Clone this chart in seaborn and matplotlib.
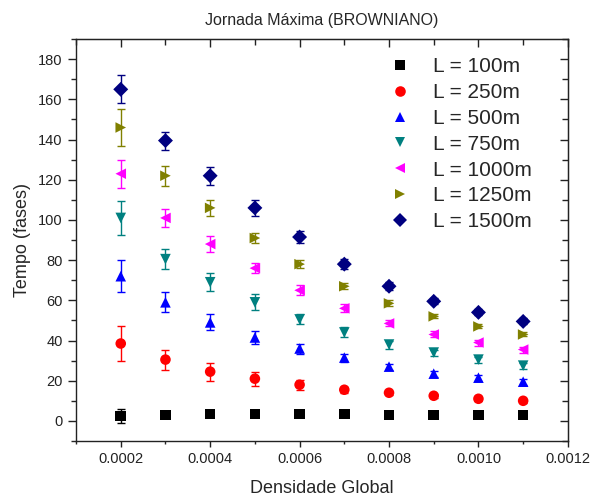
import numpy as np
import pandas as pd
import matplotlib
matplotlib.use("Agg")
import matplotlib.pyplot as plt
from matplotlib.ticker import MultipleLocator, NullFormatter
import seaborn as sns

densidade = [0.0002, 0.0003, 0.0004, 0.0005, 0.0006, 0.0007, 0.0008, 0.0009, 0.0010, 0.0011]
labels = ["L = 100m", "L = 250m", "L = 500m", "L = 750m", "L = 1000m", "L = 1250m", "L = 1500m"]

t_100 = [2.5, 3, 3.5, 3.5, 3.5, 3.5, 3, 3, 3, 3]
e_100 = [3.5, 1.2, 1.2, 1, 1, 1, 1, 1, 1, 1]
t_250 = [38.5, 30.5, 24.5, 21, 18, 15.5, 14, 12.5, 11, 10]
e_250 = [8.5, 5, 4.5, 3.5, 2.5, 1.5, 1, 1, 1, 1]
t_500 = [72, 59, 49, 41.5, 36, 31.5, 27, 23.5, 21.5, 19.5]
e_500 = [8, 5, 4, 3, 2.5, 2, 1.5, 1.5, 1.5, 1.5]
t_750 = [101, 80.5, 69, 59, 50.5, 44, 38, 34, 30.5, 27.5]
e_750 = [8.5, 5, 4.5, 4, 2.5, 2.5, 2, 1.5, 1.5, 1.5]
t_1000 = [123, 101, 88, 76, 65, 56, 48.5, 43, 39, 35.5]
e_1000 = [7, 4.5, 4, 2.5, 2.5, 2, 1.5, 1.5, 1.5, 1.5]
t_1250 = [146, 122, 106, 91, 78, 67, 58.5, 52, 47, 43]
e_1250 = [9, 5, 4, 2.5, 2, 1.5, 1.5, 1, 1, 1]
t_1500 = [165, 139.5, 122, 106, 91.5, 78, 67, 59.5, 54, 49.5]
e_1500 = [7, 4.5, 4.5, 4, 3, 2.5, 2, 1.5, 1.5, 1.5]

series = [t_100, t_250, t_500, t_750, t_1000, t_1250, t_1500]
errors = [e_100, e_250, e_500, e_750, e_1000, e_1250, e_1500]
colors = ["#000000", "#FF0000", "#0000FF", "#008080", "#FF00FF", "#808000", "#000080"]
markers = ["s", "o", "^", "v", "<", ">", "D"]

rows = []
for lab, ys, es in zip(labels, series, errors):
    for x, y, e in zip(densidade, ys, es):
        rows.append({"Densidade": x, "Tempo": y, "Erro": e, "Serie": lab})
df = pd.DataFrame(rows)

sns.set_style("white")
plt.rcParams["font.family"] = ["Liberation Sans", "DejaVu Sans"]

fig = plt.figure(figsize=(5.94, 4.98), dpi=100)
ax = fig.add_axes([0.128, 0.1145, 0.828, 0.807])

for lab, col in zip(labels, colors):
    sub = df[df["Serie"] == lab]
    ax.errorbar(sub["Densidade"], sub["Tempo"], yerr=sub["Erro"], fmt="none",
                ecolor=col, elinewidth=1, capsize=3, capthick=1, zorder=2)

sns.scatterplot(data=df, x="Densidade", y="Tempo", hue="Serie", style="Serie",
                palette=dict(zip(labels, colors)), markers=dict(zip(labels, markers)),
                hue_order=labels, style_order=labels,
                s=58, edgecolor="none", linewidth=0, ax=ax, zorder=3)

ax.set_xlim(0.0001, 0.0012)
ax.set_ylim(-10, 190)
ax.set_xticks([0.0002, 0.0004, 0.0006, 0.0008, 0.0010, 0.0012])
ax.set_xticklabels(["0.0002", "0.0004", "0.0006", "0.0008", "0.0010", "0.0012"])
ax.xaxis.set_minor_locator(MultipleLocator(0.0001))
ax.set_yticks(np.arange(0, 181, 20))
ax.yaxis.set_minor_locator(MultipleLocator(10))
ax.tick_params(axis="x", which="major", direction="out", length=4.5, width=1,
               pad=3.5, labelsize=10.5, colors="#222222", bottom=True)
ax.tick_params(axis="x", which="minor", direction="out", length=2.5, width=1, bottom=True)
ax.tick_params(axis="y", which="major", direction="out", length=6, width=1,
               pad=3.5, labelsize=10.5, colors="#222222", left=True)
ax.tick_params(axis="y", which="minor", direction="out", length=3.5, width=1, left=True)
for sp in ax.spines.values():
    sp.set_color("#222222")
    sp.set_linewidth(1)

# inward ticks on top and right spines
top = ax.secondary_xaxis("top")
top.set_xticks([0.0002, 0.0004, 0.0006, 0.0008, 0.0010, 0.0012])
top.xaxis.set_minor_locator(MultipleLocator(0.0001))
top.xaxis.set_major_formatter(NullFormatter())
top.tick_params(axis="x", which="major", direction="in", length=6, width=1, colors="#222222")
top.tick_params(axis="x", which="minor", direction="in", length=4, width=1, colors="#222222")
top.spines["top"].set_color("#222222")
right = ax.secondary_yaxis("right")
right.set_yticks(np.arange(0, 181, 20))
right.yaxis.set_minor_locator(MultipleLocator(10))
right.yaxis.set_major_formatter(NullFormatter())
right.tick_params(axis="y", which="major", direction="in", length=6, width=1, colors="#222222")
right.tick_params(axis="y", which="minor", direction="in", length=4, width=1, colors="#222222")
right.spines["right"].set_color("#222222")

ax.set_xlabel("Densidade Global", fontsize=13, labelpad=10)
ax.set_ylabel("Tempo (fases)", fontsize=13, labelpad=5)
fig.text(0.542, 0.958, "Jornada Máxima (BROWNIANO)", fontsize=11.5,
         ha="center", va="center")

handles, hl = ax.get_legend_handles_labels()
ax.legend(handles=handles, labels=hl, loc="upper left", frameon=False,
          fontsize=15, markerscale=1.0, handletextpad=0.55, labelspacing=0.33,
          bbox_to_anchor=(0.60, 0.976), borderaxespad=0, borderpad=0.4)

fig.savefig("out.png", dpi=100)
